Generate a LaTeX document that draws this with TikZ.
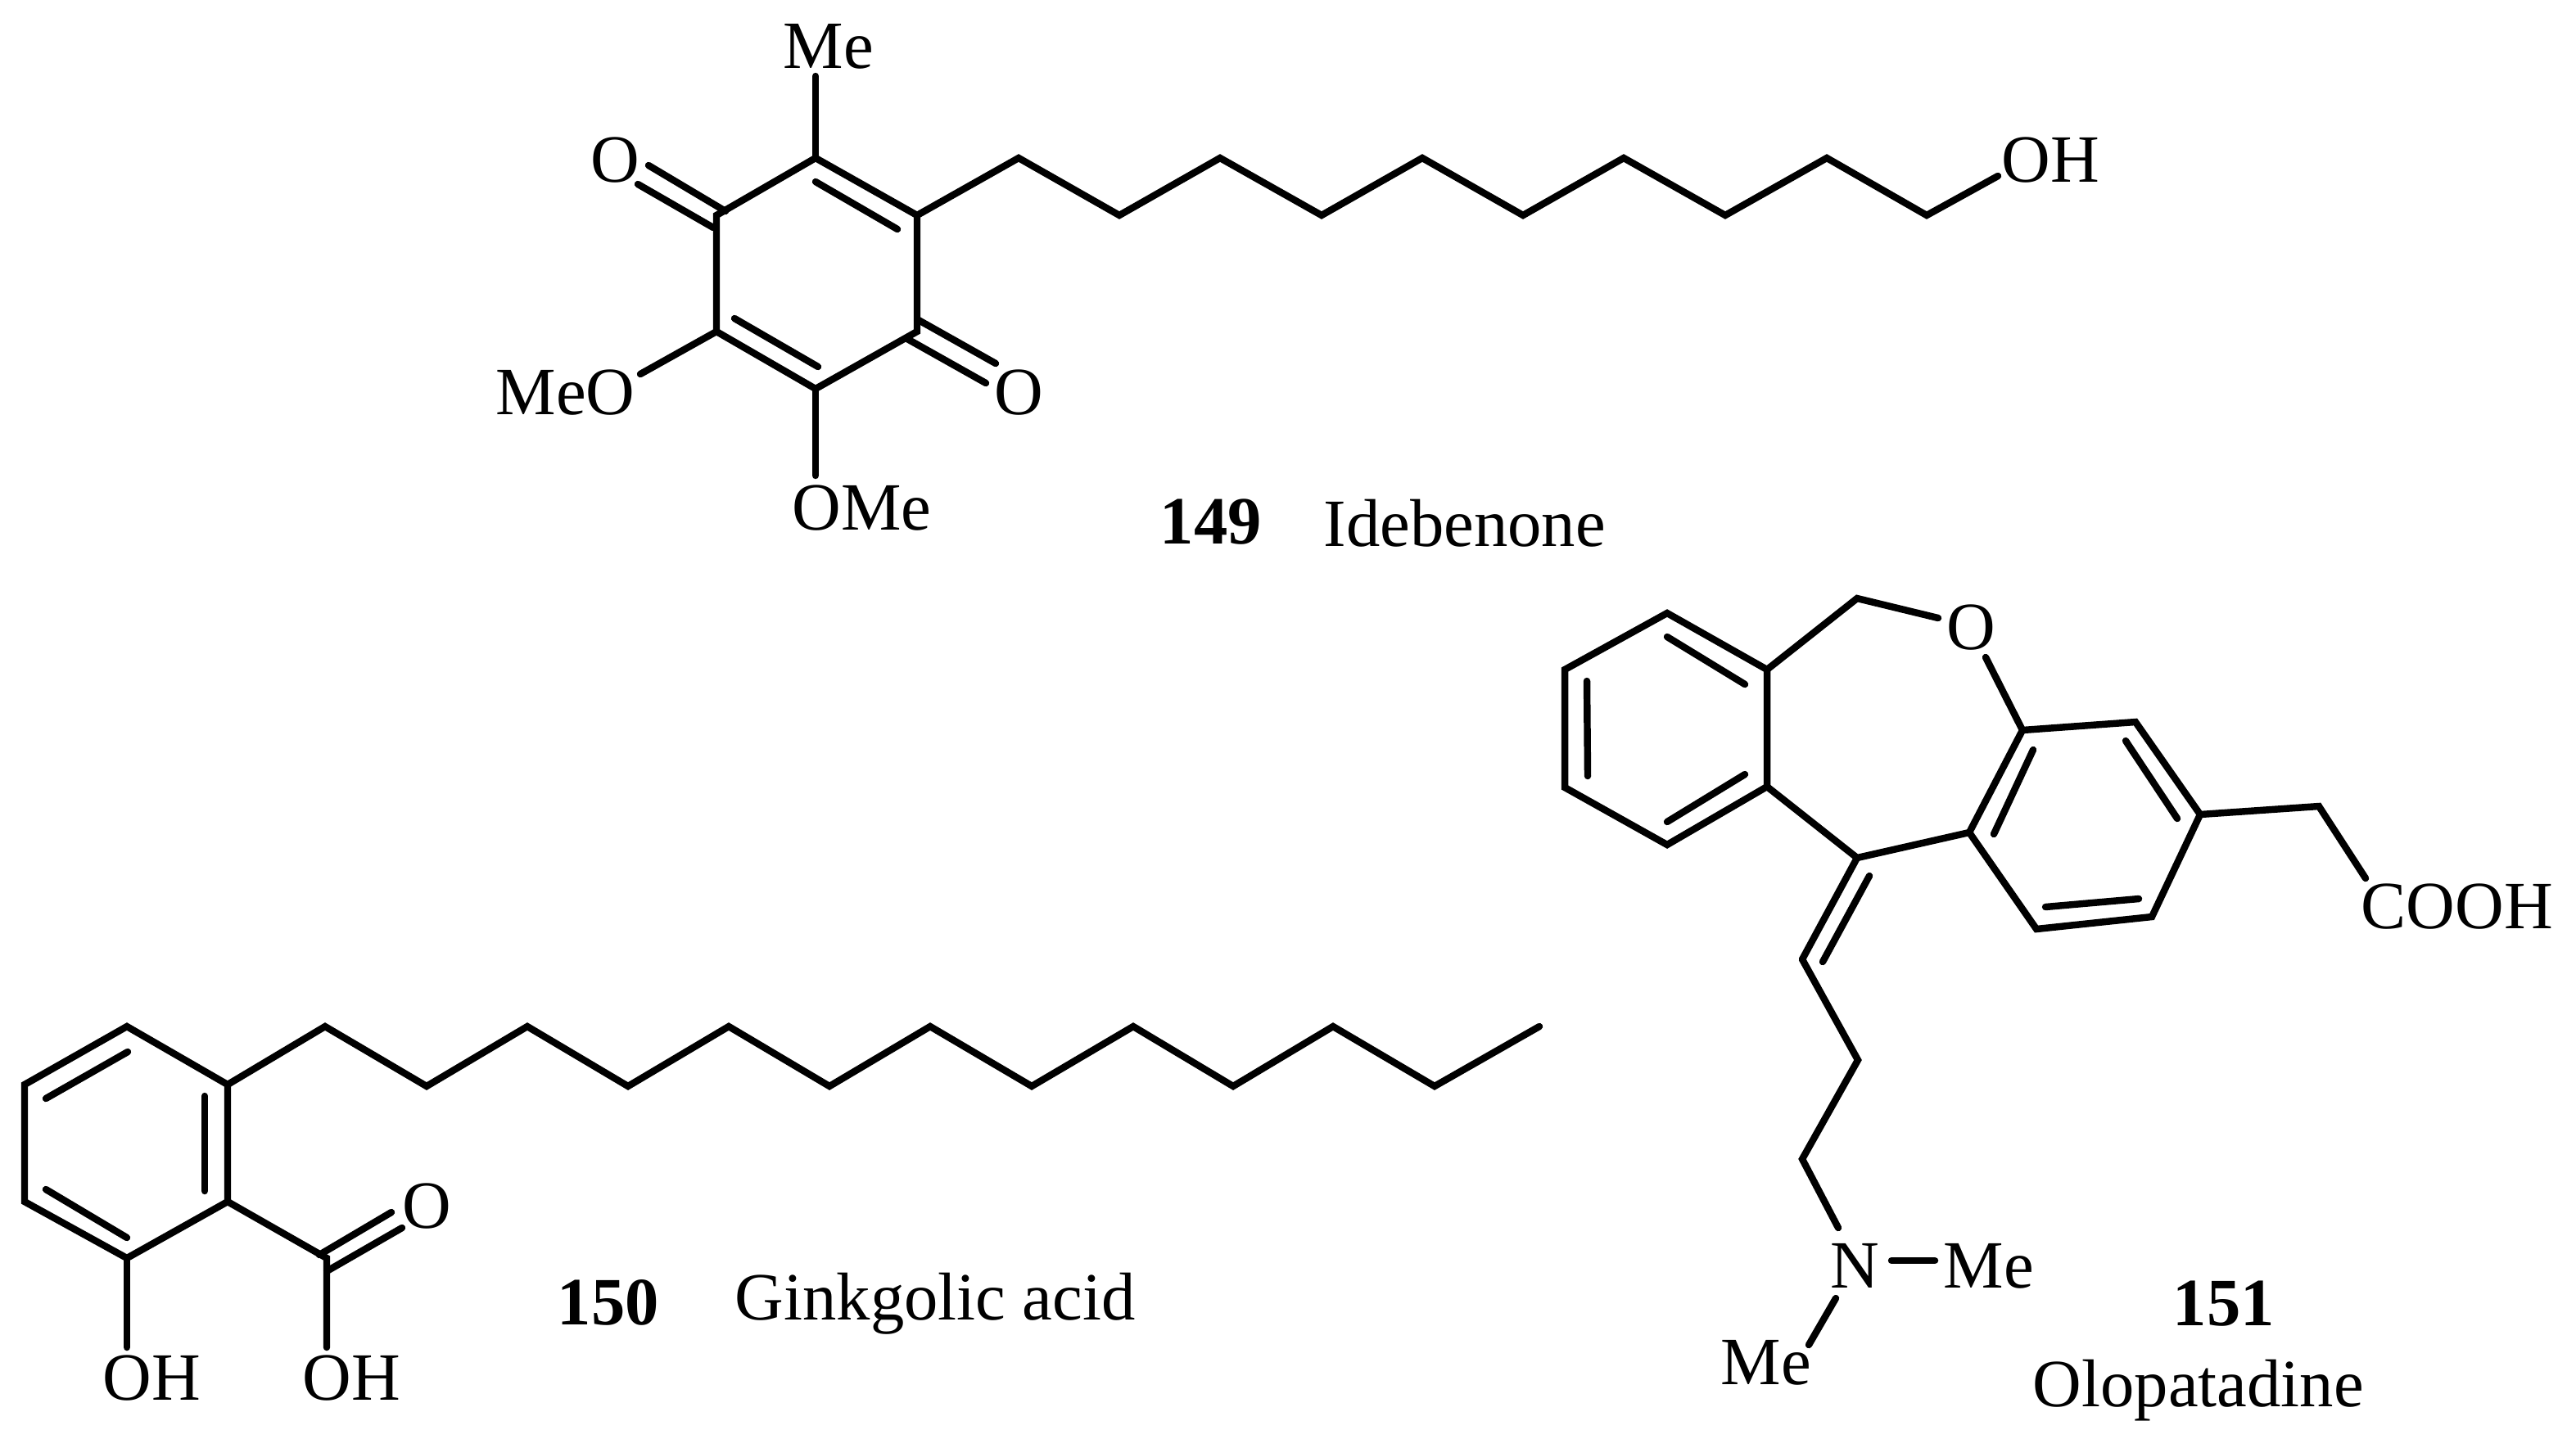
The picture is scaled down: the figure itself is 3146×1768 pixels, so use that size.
\documentclass[tikz,border=0pt]{standalone}
\usepackage{fontspec}
\setmainfont{Liberation Serif}
\tikzset{
    bond/.style={line width=2.4pt,line cap=round,black},
    atom/.style={anchor=base west,inner sep=0pt,font=\fontsize{23.5}{28}\selectfont},
    tag/.style={atom,font=\fontsize{23.5}{28}\selectfont\bfseries}
}
\begin{document}
\begin{tikzpicture}[x=0.01cm,y=-0.01cm]
        \useasboundingbox (0,0) rectangle (3146,1768);
        % idebenone
        \node[atom] (qme) at (956,83) {Me};
        \node[atom] (qol) at (721,222) {O};
        \node[atom] (qor) at (1214,506) {O};
        \node[atom] (qmeo) at (605,506) {MeO};
        \node[atom] (qome) at (967,647) {OMe};
        \node[atom] (qoh) at (2444,222) {OH};
        \node[tag] (n149) at (1416,664) {149};
        \node[atom] (idebenone) at (1616,667) {Idebenone};
        \coordinate (q1) at (996,193);
        \coordinate (q2) at (1120,263);
        \coordinate (q3) at (1120,405);
        \coordinate (q4) at (996,475);
        \coordinate (q5) at (875,405);
        \coordinate (q6) at (875,263);
        \coordinate (q7) at (996,93);
        \coordinate (q8) at (996,581);
        \coordinate (q9) at (782,457);
        \draw[bond] (q1) -- (q2) -- (q3) -- (q4) -- (q5) -- (q6) -- cycle;
        \draw[bond] (q1) -- (q7);
        \draw[bond] (q4) -- (q8);
        \draw[bond] (q5) -- (q9);
        \coordinate (q2i) at (996,222);
        \coordinate (q2j) at (1096,280);
        \coordinate (q4i) at (897,389);
        \coordinate (q4j) at (999,448);
        \draw[bond] (q2i) -- (q2j);
        \draw[bond] (q4i) -- (q4j);
        \coordinate (qla) at (792,202);
        \coordinate (qlb) at (886,258);
        \coordinate (qlc) at (779,225);
        \coordinate (qld) at (871,278);
        \draw[bond] (qla) -- (qlb);
        \draw[bond] (qlc) -- (qld);
        \coordinate (qra) at (1120,390);
        \coordinate (qrb) at (1216,444);
        \coordinate (qrc) at (1108,414);
        \coordinate (qrd) at (1204,468);
        \draw[bond] (qra) -- (qrb);
        \draw[bond] (qrc) -- (qrd);
        \coordinate (s1) at (1244,193);
        \coordinate (s2) at (1367,263);
        \coordinate (s3) at (1490,193);
        \coordinate (s4) at (1614,263);
        \coordinate (s5) at (1737,193);
        \coordinate (s6) at (1860,263);
        \coordinate (s7) at (1983,193);
        \coordinate (s8) at (2107,263);
        \coordinate (s9) at (2231,193);
        \coordinate (s10) at (2353,263);
        \coordinate (s11) at (2440,215);
        \draw[bond] (q2) -- (s1) -- (s2) -- (s3) -- (s4) -- (s5) -- (s6) -- (s7) -- (s8) -- (s9) -- (s10) -- (s11);
        % ginkgolic acid
        \node[atom] (go) at (491,1500) {O};
        \node[atom] (goh) at (125,1710) {OH};
        \node[atom] (gcoh) at (369,1710) {OH};
        \node[tag] (n150) at (680,1618) {150};
        \node[atom] (ginkgolic) at (897,1612) {Ginkgolic acid};
        \coordinate (g1) at (155,1254);
        \coordinate (g2) at (278,1325);
        \coordinate (g3) at (278,1468);
        \coordinate (g4) at (155,1537);
        \coordinate (g5) at (30,1468);
        \coordinate (g6) at (30,1325);
        \draw[bond] (g1) -- (g2) -- (g3) -- (g4) -- (g5) -- (g6) -- cycle;
        \coordinate (g1i) at (156,1285);
        \coordinate (g1j) at (56,1342);
        \coordinate (g2i) at (250,1339);
        \coordinate (g2j) at (250,1455);
        \coordinate (g4i) at (56,1453);
        \coordinate (g4j) at (155,1512);
        \draw[bond] (g1i) -- (g1j);
        \draw[bond] (g2i) -- (g2j);
        \draw[bond] (g4i) -- (g4j);
        \coordinate (g7) at (155,1646);
        \draw[bond] (g4) -- (g7);
        \coordinate (c1) at (399,1537);
        \coordinate (c2) at (399,1646);
        \draw[bond] (g3) -- (c1) -- (c2);
        \coordinate (ca) at (390,1533);
        \coordinate (cb) at (478,1481);
        \coordinate (cc) at (399,1553);
        \coordinate (cd) at (491,1500);
        \draw[bond] (ca) -- (cb);
        \draw[bond] (cc) -- (cd);
        \coordinate (t1) at (397,1254);
        \coordinate (t2) at (521,1327);
        \coordinate (t3) at (644,1254);
        \coordinate (t4) at (767,1327);
        \coordinate (t5) at (890,1254);
        \coordinate (t6) at (1013,1327);
        \coordinate (t7) at (1136,1254);
        \coordinate (t8) at (1260,1327);
        \coordinate (t9) at (1384,1254);
        \coordinate (t10) at (1506,1327);
        \coordinate (t11) at (1628,1254);
        \coordinate (t12) at (1752,1327);
        \coordinate (t13) at (1880,1254);
        \draw[bond] (g2) -- (t1) -- (t2) -- (t3) -- (t4) -- (t5) -- (t6) -- (t7) -- (t8) -- (t9) -- (t10) -- (t11) -- (t12) -- (t13);
        % olopatadine
        \node[atom] (oo) at (2377,793) {O};
        \node[atom] (ocooh) at (2883,1134) {COOH};
        \node[atom] (on) at (2235,1573) {N};
        \node[atom] (ome) at (2373,1573) {Me};
        \node[atom] (omel) at (2101,1691) {Me};
        \node[tag] (n151) at (2653,1619) {151};
        \node[atom] (olopatadine) at (2482,1718) {Olopatadine};
        \coordinate (a1) at (2036,749);
        \coordinate (a2) at (2158,818);
        \coordinate (a3) at (2158,961);
        \coordinate (a4) at (2036,1032);
        \coordinate (a5) at (1911,962);
        \coordinate (a6) at (1911,818);
        \draw[bond] (a1) -- (a2) -- (a3) -- (a4) -- (a5) -- (a6) -- cycle;
        \coordinate (a1i) at (2036,778);
        \coordinate (a1j) at (2131,836);
        \coordinate (a6i) at (1938,832);
        \coordinate (a6j) at (1939,948);
        \coordinate (a4i) at (2036,1004);
        \coordinate (a4j) at (2131,946);
        \draw[bond] (a1i) -- (a1j);
        \draw[bond] (a6i) -- (a6j);
        \draw[bond] (a4i) -- (a4j);
        \coordinate (b1) at (2470,892);
        \coordinate (b2) at (2608,882);
        \coordinate (b3) at (2687,995);
        \coordinate (b4) at (2628,1120);
        \coordinate (b5) at (2487,1135);
        \coordinate (b6) at (2405,1017);
        \draw[bond] (b1) -- (b2) -- (b3) -- (b4) -- (b5) -- (b6) -- cycle;
        \coordinate (b1i) at (2483,916);
        \coordinate (b1j) at (2435,1019);
        \coordinate (b2i) at (2596,905);
        \coordinate (b2j) at (2659,1000);
        \coordinate (b4i) at (2498,1108);
        \coordinate (b4j) at (2612,1098);
        \draw[bond] (b1i) -- (b1j);
        \draw[bond] (b2i) -- (b2j);
        \draw[bond] (b4i) -- (b4j);
        \coordinate (o1) at (2268,731);
        \coordinate (o2) at (2367,755);
        \coordinate (o3) at (2425,803);
        \draw[bond] (a2) -- (o1) -- (o2);
        \draw[bond] (o3) -- (b1);
        \coordinate (e1) at (2268,1048);
        \coordinate (e2) at (2201,1172);
        \coordinate (e3) at (2283,1070);
        \coordinate (e4) at (2226,1175);
        \draw[bond] (a3) -- (e1) -- (b6);
        \draw[bond] (e1) -- (e2);
        \draw[bond] (e3) -- (e4);
        \coordinate (p1) at (2269,1295);
        \coordinate (p2) at (2201,1416);
        \coordinate (p3) at (2245,1500);
        \draw[bond] (e2) -- (p1) -- (p2) -- (p3);
        \coordinate (m1) at (2310,1540);
        \coordinate (m2) at (2363,1540);
        \coordinate (m3) at (2242,1586);
        \coordinate (m4) at (2209,1643);
        \draw[bond] (m1) -- (m2);
        \draw[bond] (m3) -- (m4);
        \coordinate (h1) at (2832,985);
        \coordinate (h2) at (2889,1073);
        \draw[bond] (b3) -- (h1) -- (h2);
    \end{tikzpicture}
\end{document}
